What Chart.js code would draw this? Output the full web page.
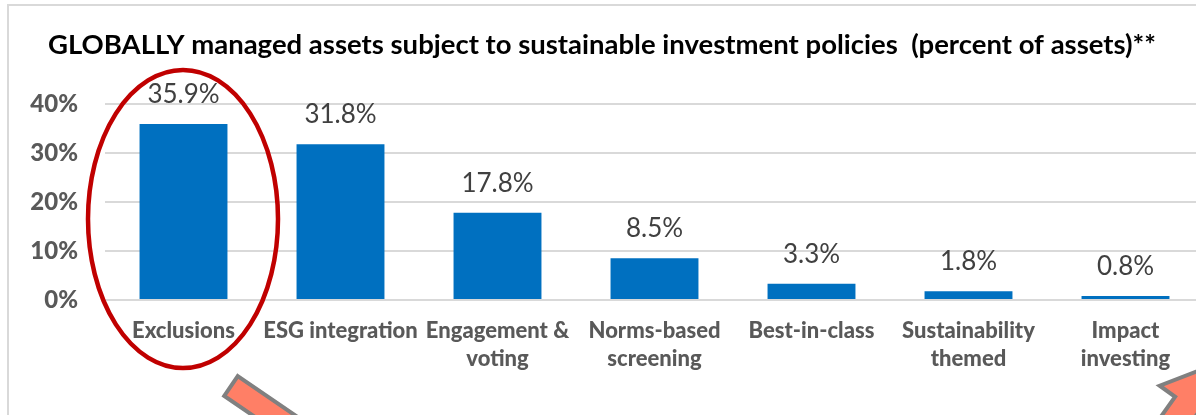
<!DOCTYPE html>
<html>
<head>
<meta charset="utf-8">
<script src="https://cdn.jsdelivr.net/npm/chart.js@4"></script>
<style>
  html, body { margin: 0; padding: 0; background: #fff; overflow: hidden; }
  #box { width: 1196px; height: 415px; overflow: hidden; }
</style>
</head>
<body>
<div id="box"><canvas id="policies" width="1204" height="415"></canvas></div>
<script>
var categories = [
  'Exclusions',
  'ESG integration',
  ['Engagement &', 'voting'],
  ['Norms-based', 'screening'],
  'Best-in-class',
  ['Sustainability', 'themed'],
  ['Impact', 'investing']
];
var shares = [35.9, 31.8, 17.8, 8.5, 3.3, 1.8, 0.8];
var yTicks = [0, 10, 20, 30, 40];

var fontName = 'Lato, "Open Sans", sans-serif';

// frame, value labels, the red ellipse and the arrows
var extras = {
  id: 'extras',
  beforeDraw: function (chart) {
    var c = chart.ctx;
    c.save();
    c.strokeStyle = '#d9d9d9';
    c.lineWidth = 2;
    c.beginPath();
    c.moveTo(8, 415);
    c.lineTo(8, 5);
    c.lineTo(1204, 5);
    c.stroke();
    c.restore();
  },
  afterDatasetsDraw: function (chart) {
    var c = chart.ctx;
    var meta = chart.getDatasetMeta(0);
    c.save();
    c.font = '26px ' + fontName;
    c.fillStyle = '#404040';
    c.textAlign = 'center';
    c.textBaseline = 'alphabetic';
    meta.data.forEach(function (bar, i) {
      c.fillText(shares[i].toFixed(1) + '%', bar.x, bar.y - 21);
    });
    c.restore();
  },
  afterDraw: function (chart) {
    var c = chart.ctx;
    c.save();
    c.strokeStyle = '#c00000';
    c.lineWidth = 4.5;
    c.beginPath();
    c.ellipse(183, 219, 95, 149, 0, 0, Math.PI * 2);
    c.stroke();

    function arrow(x0, y0, ang, len, shaftW, headW, headL) {
      c.save();
      c.translate(x0, y0);
      c.rotate(ang);
      c.beginPath();
      c.moveTo(0, -shaftW / 2);
      c.lineTo(len - headL, -shaftW / 2);
      c.lineTo(len - headL, -headW / 2);
      c.lineTo(len, 0);
      c.lineTo(len - headL, headW / 2);
      c.lineTo(len - headL, shaftW / 2);
      c.lineTo(0, shaftW / 2);
      c.closePath();
      c.fillStyle = '#ff7f66';
      c.fill();
      c.strokeStyle = '#808080';
      c.lineWidth = 4;
      c.stroke();
      c.restore();
    }
    arrow(231, 386, 0.6, 200, 24, 60, 50);
    arrow(1140, 470, -0.95, 130, 28, 66, 50);
    c.restore();
  }
};

new Chart(document.getElementById('policies').getContext('2d'), {
  type: 'bar',
  data: {
    labels: categories,
    datasets: [{
      data: shares,
      backgroundColor: '#0070c0',
      borderWidth: 0,
      categoryPercentage: 1,
      barPercentage: 0.56
    }]
  },
  plugins: [extras],
  options: {
    responsive: false,
    animation: false,
    layout: { padding: 0 },
    plugins: {
      legend: { display: false },
      tooltip: { enabled: false },
      title: {
        display: true,
        text: 'GLOBALLY managed assets subject to sustainable investment policies  (percent of assets)**',
        color: '#000',
        font: { family: fontName, size: 27.5, weight: 'bold', lineHeight: 1.2 },
        padding: { top: 29, bottom: 42 }
      }
    },
    scales: {
      x: {
        grid: { display: false, drawTicks: false },
        border: { color: '#d9d9d9', width: 2 },
        ticks: {
          color: '#595959',
          font: { family: fontName, size: 22, weight: '900', lineHeight: 1.27 },
          padding: 17,
          maxRotation: 0,
          autoSkip: false
        },
        afterFit: function (axis) { axis.height = 115; }
      },
      y: {
        min: 0,
        max: 40,
        afterBuildTicks: function (axis) {
          axis.ticks = yTicks.map(function (v) { return { value: v }; });
        },
        grid: { color: '#d9d9d9', lineWidth: 2, drawTicks: false },
        border: { display: false },
        ticks: {
          color: '#595959',
          font: { family: fontName, size: 24, weight: '900' },
          padding: 27,
          callback: function (v) { return v + '%'; }
        },
        afterFit: function (axis) { axis.width = 105; }
      }
    }
  }
});
</script>
</body>
</html>
